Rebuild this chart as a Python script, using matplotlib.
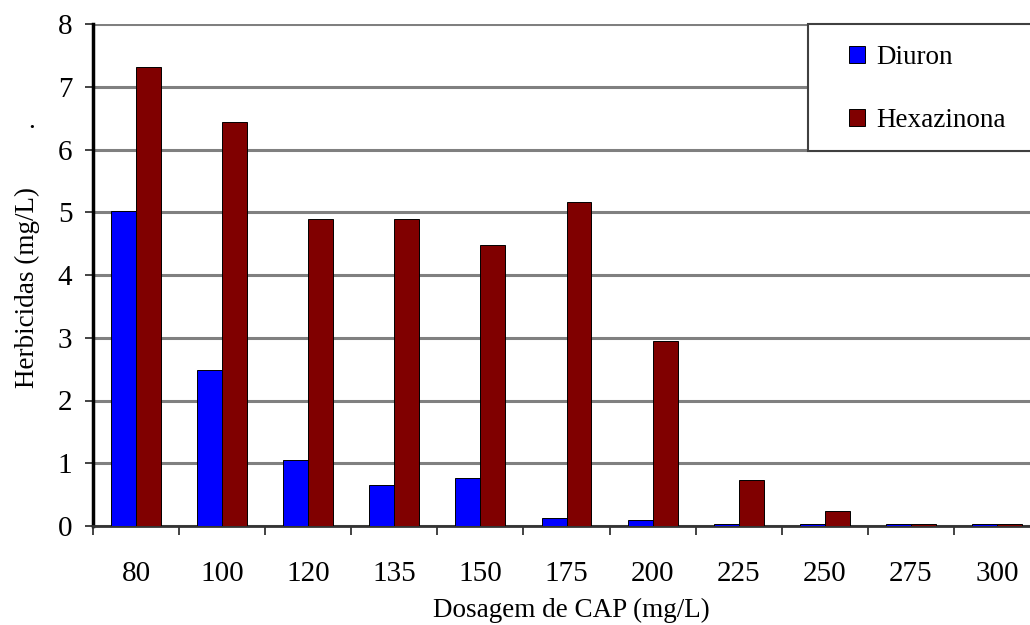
import matplotlib
matplotlib.use("Agg")
import matplotlib.pyplot as plt
from matplotlib.patches import Rectangle
import numpy as np

categories = ["80", "100", "120", "135", "150", "175", "200", "225", "250", "275", "300"]
diuron = [5.02, 2.49, 1.05, 0.65, 0.77, 0.13, 0.10, 0.03, 0.03, 0.03, 0.03]
hexazinona = [7.31, 6.44, 4.89, 4.89, 4.48, 5.17, 2.95, 0.73, 0.24, 0.03, 0.03]
y_ticks = [0, 1, 2, 3, 4, 5, 6, 7, 8]

plt.rcParams['font.family'] = ['Liberation Serif', 'DejaVu Serif']
FS_TICK = 21
FS_LAB = 19.5

W, H = 1030, 625
fig = plt.figure(figsize=(W / 100, H / 100), dpi=100)
left, right, top, bottom = 93, 1040, 24, 526
ax = fig.add_axes([left / W, (H - bottom) / H, (right - left) / W, (bottom - top) / H])

x = np.arange(len(categories))
w = 0.29
ax.bar(x - w / 2, diuron, w, color="#0000FF", edgecolor="black", linewidth=0.7, label="Diuron", zorder=3)
ax.bar(x + w / 2, hexazinona, w, color="#800000", edgecolor="black", linewidth=0.7, label="Hexazinona", zorder=3)

ax.set_xlim(-0.5, len(categories) - 0.5)
ax.set_ylim(0, 8)
ax.set_yticks(y_ticks)
ax.set_yticklabels([str(t) for t in y_ticks], fontsize=FS_TICK)
ax.yaxis.grid(True, color="#808080", linewidth=2.2, zorder=0)
ax.set_axisbelow(True)

ax.set_xticks(x)
ax.set_xticklabels(categories, fontsize=FS_TICK)
ax.set_xticks(np.arange(-0.5, len(categories), 1.0), minor=True)
ax.tick_params(axis="x", which="major", length=0, pad=25)
ax.tick_params(axis="x", which="minor", length=6.5, width=1.2, direction="out", color="#222222")
ax.tick_params(axis="y", length=5.8, width=1.2, direction="out", pad=9, color="#222222")

for s in ["top", "right"]:
    ax.spines[s].set_visible(False)
ax.spines["left"].set_linewidth(2.5)
ax.spines["left"].set_color("black")
ax.spines["bottom"].set_linewidth(2.0)
ax.spines["bottom"].set_color("#333333")

fig.text(571 / W, 1 - 610 / H, "Dosagem de CAP (mg/L)", fontsize=FS_LAB, ha="center", va="center")
fig.text(27 / W, 1 - 288 / H, "Herbicidas (mg/L)", rotation=90, fontsize=FS_LAB,
         ha="center", va="center")
fig.text(32 / W, 1 - 134 / H, ".", fontsize=FS_LAB, ha="center", va="bottom")

# legend box
fig.patches.append(Rectangle((808 / W, 1 - 151 / H), (1045 - 808) / W, (151 - 24) / H,
                             transform=fig.transFigure, facecolor="white",
                             edgecolor="#404040", linewidth=1.5, zorder=5))
leg = fig.legend(loc="upper left", bbox_to_anchor=(849 / W, 1 - 45 / H), frameon=False,
                 fontsize=19.5, handlelength=0.6, handleheight=0.6, handletextpad=0.4,
                 labelspacing=1.4, borderpad=0, borderaxespad=0)
leg.set_zorder(6)

fig.savefig("out.png", dpi=100)
